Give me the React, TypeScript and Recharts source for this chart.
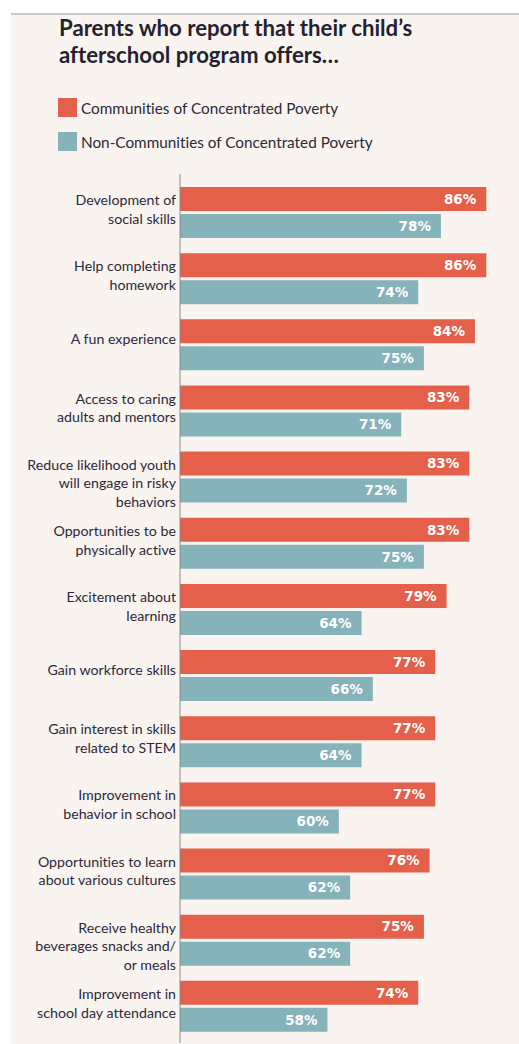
import { Bar, BarChart, LabelList, XAxis, YAxis } from 'recharts';

const categories = [
  ['Development of', 'social skills'],
  ['Help completing', 'homework'],
  ['A fun experience'],
  ['Access to caring', 'adults and mentors'],
  ['Reduce likelihood youth', 'will engage in risky', 'behaviors'],
  ['Opportunities to be', 'physically active'],
  ['Excitement about', 'learning'],
  ['Gain workforce skills'],
  ['Gain interest in skills', 'related to STEM'],
  ['Improvement in', 'behavior in school'],
  ['Opportunities to learn', 'about various cultures'],
  ['Receive healthy', 'beverages snacks and/', 'or meals'],
  ['Improvement in', 'school day attendance'],
];

const povertyValues = [86, 86, 84, 83, 83, 83, 79, 77, 77, 77, 76, 75, 74];
const nonPovertyValues = [78, 74, 75, 71, 72, 75, 64, 66, 64, 60, 62, 62, 58];

const seriesNames = ['Communities of Concentrated Poverty', 'Non-Communities of Concentrated Poverty'];

const RED = '#E4604A';
const TEAL = '#86B2BA';
const BG = '#FAF4F1';

const data = categories.map((lines, i) => ({
  label: lines.join(' '),
  poverty: povertyValues[i],
  nonPoverty: nonPovertyValues[i],
}));

function CategoryTick(props: any) {
  const { x, y, payload } = props;
  const lines: string[] = categories[payload.index] ?? [payload.value];
  const start = y - (lines.length === 1 ? 4 : 11);
  const tx = x + 4;
  return (
    <text
      x={tx}
      y={start}
      textAnchor="end"
      fill="#2a2a3a"
      fontFamily="Lato"
      fontSize={14.2}
      dominantBaseline="middle"
      style={{ fontVariantLigatures: 'none' }}
    >
      {lines.map((l, i) => (
        <tspan key={i} x={tx} dy={i === 0 ? 0 : 18.7}>
          {l}
        </tspan>
      ))}
    </text>
  );
}

const pct = (v: any) => `${v}%`;

export default function App() {
  return (
    <div
      style={{
        position: 'relative',
        width: 519,
        height: 1044,
        background: '#fff',
        overflow: 'hidden',
        fontVariantLigatures: 'none',
      }}
    >
      <style>{`body{margin:0}`}</style>
      <div
        style={{
          position: 'absolute',
          left: 11,
          top: 13,
          width: 508,
          height: 1031,
          background: BG,
          borderTop: '2px solid #c9c9c9',
        }}
      />
      {/* title */}
      <div
        style={{
          position: 'absolute',
          left: 59,
          top: 14,
          fontFamily: 'Lato',
          fontWeight: 700,
          fontSize: 22.2,
          lineHeight: '27px',
          color: '#222230',
        }}
      >
        Parents who report that their child’s
        <br />
        afterschool program offers…
      </div>

      {/* legend */}
      {seriesNames.map((name, i) => (
        <div
          key={name}
          style={{
            position: 'absolute',
            left: 58,
            top: 98 + i * 34,
            display: 'flex',
            alignItems: 'center',
            fontFamily: 'Lato',
            fontSize: 15.3,
            color: '#2a2a3a',
          }}
        >
          <span style={{ width: 19, height: 19, background: i === 0 ? RED : TEAL, marginRight: 4 }} />
          <span>{name}</span>
        </div>
      ))}

      <div style={{ position: 'absolute', left: 0, top: 0 }}>
        <BarChart
          width={519}
          height={1044}
          data={data}
          layout="vertical"
          margin={{ top: 174, right: 10, bottom: 1, left: 0 }}
          barSize={24}
          barGap={3}
        >
          <XAxis type="number" domain={[32, 90]} hide allowDataOverflow />
          <YAxis
            type="category"
            dataKey="label"
            width={180}
            axisLine={{ stroke: '#8a8a8a', strokeWidth: 1 }}
            tickLine={false}
            tick={<CategoryTick />}
            interval={0}
            padding={{ top: 5, bottom: 4 }}
          />
          <Bar dataKey="poverty" fill={RED} isAnimationActive={false}>
            <LabelList
              dataKey="poverty"
              position="insideRight"
              offset={10}
              formatter={pct}
              fill="#fff"
              fontFamily="DejaVu Sans"
              fontWeight={700}
              fontSize={13.5}
            />
          </Bar>
          <Bar dataKey="nonPoverty" fill={TEAL} isAnimationActive={false}>
            <LabelList
              dataKey="nonPoverty"
              position="insideRight"
              offset={10}
              formatter={pct}
              fill="#fff"
              fontFamily="DejaVu Sans"
              fontWeight={700}
              fontSize={13.5}
            />
          </Bar>
        </BarChart>
      </div>
    </div>
  );
}
